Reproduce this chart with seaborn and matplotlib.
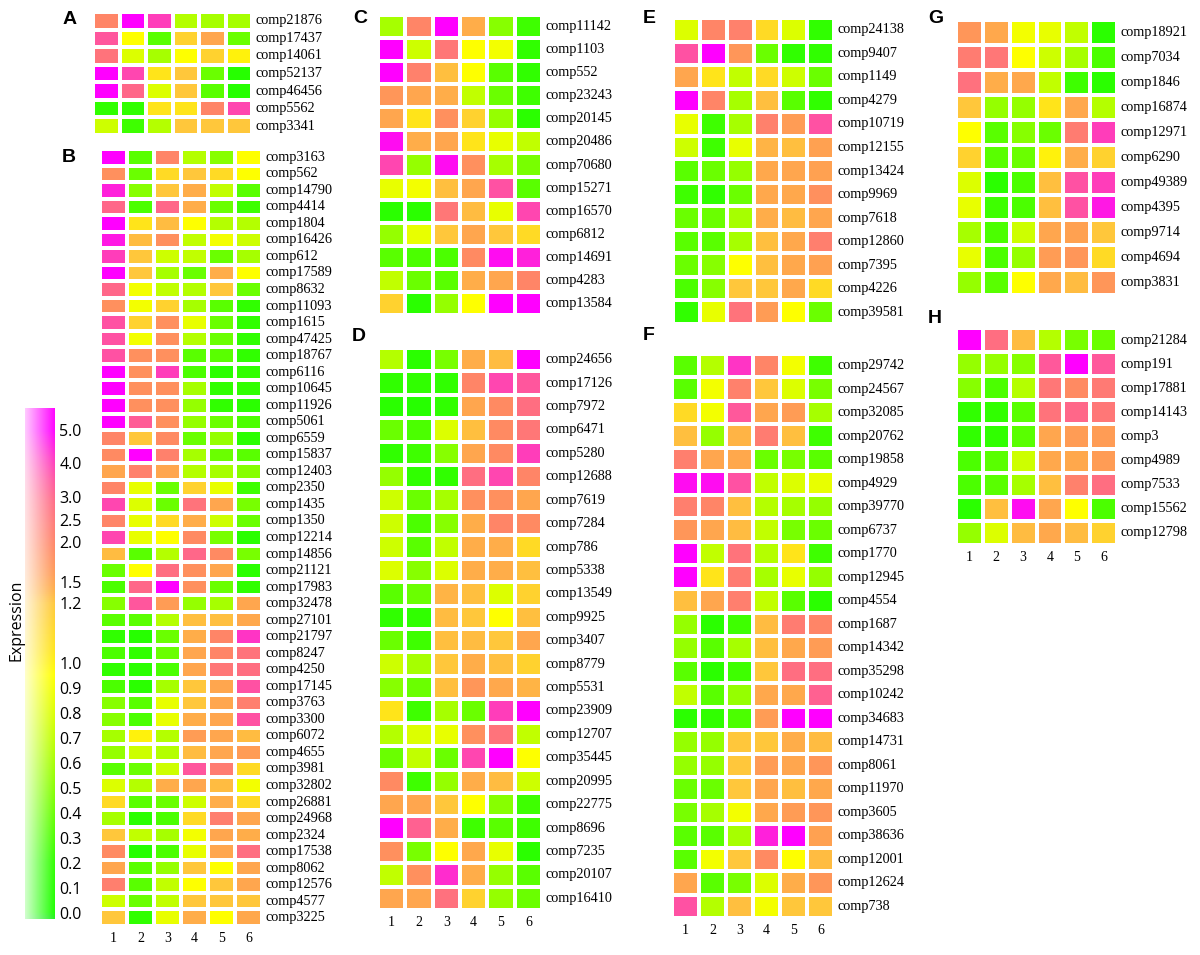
import numpy as np
import pandas as pd
import matplotlib
matplotlib.use("Agg")
import matplotlib.pyplot as plt
import seaborn as sns
from matplotlib.colors import LinearSegmentedColormap, FuncNorm

# ---------------- data ----------------
columns = ["1", "2", "3", "4", "5", "6"]

A_rows = ["comp21876", "comp17437", "comp14061", "comp52137", "comp46456", "comp5562", "comp3341"]
A_vals = [
    [2.0, 5.0, 4.0, 0.65, 0.6, 0.6],
    [3.5, 0.95, 0.35, 1.15, 1.5, 0.4],
    [2.6, 0.8, 0.6, 0.95, 1.15, 1.0],
    [5.0, 3.8, 1.05, 1.2, 0.4, 0.1],
    [5.0, 3.0, 0.8, 1.2, 0.35, 0.1],
    [0.2, 0.2, 1.05, 1.05, 2.0, 3.8],
    [0.75, 0.25, 0.65, 1.2, 1.2, 1.2],
]

B_rows = ["comp3163", "comp562", "comp14790", "comp4414", "comp1804", "comp16426", "comp612",
          "comp17589", "comp8632", "comp11093", "comp1615", "comp47425", "comp18767", "comp6116",
          "comp10645", "comp11926", "comp5061", "comp6559", "comp15837", "comp12403", "comp2350",
          "comp1435", "comp1350", "comp12214", "comp14856", "comp21121", "comp17983", "comp32478",
          "comp27101", "comp21797", "comp8247", "comp4250", "comp17145", "comp3763", "comp3300",
          "comp6072", "comp4655", "comp3981", "comp32802", "comp26881", "comp24968", "comp2324",
          "comp17538", "comp8062", "comp12576", "comp4577", "comp3225"]
B_vals = [
    [5.0, 0.35, 2.0, 0.65, 0.5, 0.95],
    [1.8, 0.4, 1.1, 1.2, 1.1, 0.95],
    [4.5, 0.5, 1.2, 1.4, 0.7, 0.35],
    [3.0, 0.3, 3.0, 1.4, 0.4, 0.25],
    [5.0, 1.05, 1.3, 0.95, 0.65, 0.65],
    [4.6, 1.3, 1.8, 0.7, 0.9, 0.75],
    [4.0, 1.2, 0.75, 0.7, 0.4, 0.6],
    [5.0, 1.2, 0.6, 0.4, 1.4, 0.95],
    [3.0, 0.9, 0.7, 0.65, 1.2, 0.4],
    [1.8, 0.9, 1.15, 0.6, 0.35, 0.2],
    [3.6, 1.15, 1.8, 0.85, 0.4, 0.2],
    [3.6, 0.9, 1.8, 0.65, 0.4, 0.2],
    [3.6, 1.8, 1.8, 0.35, 0.35, 0.2],
    [5.0, 1.8, 4.0, 0.3, 0.15, 0.2],
    [5.0, 1.8, 1.8, 0.6, 0.2, 0.2],
    [5.0, 1.8, 1.8, 0.55, 0.2, 0.15],
    [5.0, 3.3, 1.8, 0.55, 0.4, 0.3],
    [2.0, 1.2, 1.9, 0.4, 0.55, 0.15],
    [1.9, 5.0, 2.1, 0.6, 0.4, 0.35],
    [1.5, 2.1, 1.5, 0.65, 0.6, 0.5],
    [2.0, 0.85, 0.4, 1.15, 0.85, 0.25],
    [3.8, 0.8, 0.4, 2.6, 1.5, 0.45],
    [2.0, 0.85, 1.1, 1.4, 0.75, 0.4],
    [3.8, 0.85, 0.95, 1.9, 0.45, 0.15],
    [1.3, 0.35, 0.65, 3.0, 1.9, 0.45],
    [0.4, 0.95, 2.8, 1.8, 1.5, 0.15],
    [0.3, 3.0, 5.0, 1.8, 0.4, 0.2],
    [0.5, 3.5, 1.6, 0.55, 0.6, 1.5],
    [0.35, 0.35, 0.65, 1.25, 1.25, 1.45],
    [0.2, 0.1, 0.4, 1.4, 2.0, 4.2],
    [0.3, 0.2, 0.4, 1.5, 2.0, 2.6],
    [0.2, 0.15, 0.3, 1.5, 2.5, 2.8],
    [0.3, 0.15, 0.6, 1.2, 1.5, 3.6],
    [0.5, 0.35, 0.85, 1.2, 1.5, 2.2],
    [0.5, 0.3, 0.85, 1.4, 1.5, 3.6],
    [0.6, 1.0, 0.65, 1.6, 1.5, 1.3],
    [0.55, 0.75, 0.65, 1.3, 1.5, 1.6],
    [0.35, 0.4, 0.75, 3.5, 2.3, 1.1],
    [0.8, 0.65, 1.4, 1.5, 1.3, 0.9],
    [1.1, 0.35, 0.4, 0.75, 1.4, 1.1],
    [0.6, 0.15, 0.3, 1.1, 2.2, 1.5],
    [1.2, 0.7, 0.6, 0.9, 1.5, 1.4],
    [1.9, 0.1, 0.3, 0.85, 1.5, 2.8],
    [1.5, 0.35, 0.55, 1.2, 0.95, 1.5],
    [2.2, 0.35, 0.7, 0.95, 1.2, 1.5],
    [0.75, 0.4, 0.7, 1.2, 1.2, 1.2],
    [1.2, 0.2, 0.85, 1.4, 0.95, 1.45],
]

C_rows = ["comp11142", "comp1103", "comp552", "comp23243", "comp20145", "comp20486", "comp70680",
          "comp15271", "comp16570", "comp6812", "comp14691", "comp4283", "comp13584"]
C_vals = [
    [0.6, 2.0, 5.0, 1.4, 0.5, 0.25],
    [5.0, 0.75, 2.5, 0.95, 0.9, 0.2],
    [5.0, 2.1, 1.25, 0.95, 0.35, 0.2],
    [1.7, 1.5, 1.4, 0.7, 0.4, 0.25],
    [1.5, 1.05, 1.8, 1.15, 0.55, 0.15],
    [4.8, 1.4, 1.5, 1.05, 0.85, 0.7],
    [3.8, 0.55, 4.8, 1.8, 0.6, 0.45],
    [0.85, 0.9, 1.25, 1.5, 3.6, 0.35],
    [0.15, 0.15, 2.5, 1.3, 0.85, 3.8],
    [0.55, 0.85, 1.2, 1.5, 1.2, 1.1],
    [0.35, 0.3, 0.3, 1.9, 4.8, 4.5],
    [0.7, 0.4, 0.35, 1.4, 1.5, 2.0],
    [1.15, 0.15, 0.55, 0.95, 5.0, 5.0],
]

D_rows = ["comp24656", "comp17126", "comp7972", "comp6471", "comp5280", "comp12688", "comp7619",
          "comp7284", "comp786", "comp5338", "comp13549", "comp9925", "comp3407", "comp8779",
          "comp5531", "comp23909", "comp12707", "comp35445", "comp20995", "comp22775", "comp8696",
          "comp7235", "comp20107", "comp16410"]
D_vals = [
    [0.65, 0.15, 0.45, 1.4, 1.3, 5.0],
    [0.2, 0.2, 0.2, 2.0, 3.8, 3.5],
    [0.15, 0.1, 0.2, 1.5, 1.9, 2.8],
    [0.4, 0.3, 0.8, 1.25, 1.9, 2.5],
    [0.2, 0.25, 0.5, 1.5, 1.9, 4.0],
    [0.55, 0.2, 0.2, 2.8, 3.8, 2.0],
    [0.75, 0.4, 0.6, 1.8, 1.8, 1.5],
    [0.75, 0.3, 0.5, 1.4, 2.0, 1.9],
    [0.75, 0.35, 0.7, 1.4, 1.4, 1.1],
    [0.8, 0.5, 0.8, 1.4, 1.4, 1.25],
    [0.35, 0.4, 1.35, 1.25, 0.8, 1.15],
    [0.2, 0.2, 1.3, 1.2, 0.95, 1.25],
    [0.4, 0.25, 1.25, 1.3, 1.2, 1.5],
    [0.75, 0.6, 1.2, 1.4, 1.25, 1.15],
    [0.5, 0.4, 1.25, 1.7, 1.45, 1.35],
    [1.05, 0.25, 0.6, 0.4, 4.0, 5.0],
    [0.65, 0.8, 0.85, 1.8, 2.6, 0.7],
    [0.4, 0.7, 0.4, 3.8, 5.0, 0.95],
    [1.9, 0.25, 0.55, 1.4, 1.3, 0.75],
    [1.5, 1.5, 1.2, 0.95, 0.5, 0.25],
    [5.0, 3.2, 1.4, 0.25, 0.35, 0.25],
    [1.8, 0.45, 0.95, 1.45, 0.85, 0.15],
    [0.7, 1.8, 4.3, 1.4, 0.55, 0.35],
    [1.5, 1.5, 2.7, 1.15, 0.55, 0.4],
]

E_rows = ["comp24138", "comp9407", "comp1149", "comp4279", "comp10719", "comp12155", "comp13424",
          "comp9969", "comp7618", "comp12860", "comp7395", "comp4226", "comp39581"]
E_vals = [
    [0.8, 2.0, 2.1, 1.1, 0.8, 0.2],
    [3.6, 5.0, 1.7, 0.4, 0.2, 0.2],
    [1.5, 1.05, 0.7, 1.1, 0.75, 0.4],
    [5.0, 2.0, 0.6, 1.25, 0.35, 0.2],
    [0.85, 0.25, 0.6, 2.1, 1.6, 3.6],
    [0.75, 0.25, 0.85, 1.35, 1.25, 1.55],
    [0.35, 0.4, 0.55, 1.45, 1.5, 1.55],
    [0.25, 0.2, 0.4, 1.45, 1.45, 1.8],
    [0.4, 0.4, 0.6, 1.4, 1.3, 1.5],
    [0.35, 0.35, 0.6, 1.25, 1.45, 2.2],
    [0.4, 0.5, 0.95, 1.25, 1.45, 1.55],
    [0.3, 0.5, 1.2, 1.2, 1.45, 1.1],
    [0.2, 0.85, 2.6, 1.6, 0.95, 0.4],
]

F_rows = ["comp29742", "comp24567", "comp32085", "comp20762", "comp19858", "comp4929", "comp39770",
          "comp6737", "comp1770", "comp12945", "comp4554", "comp1687", "comp14342", "comp35298",
          "comp10242", "comp34683", "comp14731", "comp8061", "comp11970", "comp3605", "comp38636",
          "comp12001", "comp12624", "comp738"]
F_vals = [
    [0.35, 0.65, 4.2, 2.0, 0.9, 0.25],
    [0.35, 0.9, 2.1, 1.2, 0.8, 0.45],
    [1.1, 0.9, 3.4, 1.5, 1.6, 0.6],
    [1.25, 0.55, 1.35, 2.3, 1.25, 0.25],
    [2.2, 1.5, 1.45, 0.4, 0.45, 0.35],
    [4.8, 4.8, 3.6, 0.7, 0.8, 0.85],
    [2.2, 2.0, 1.25, 0.65, 0.6, 0.55],
    [1.7, 1.5, 1.3, 0.7, 0.45, 0.4],
    [5.0, 0.7, 2.6, 0.65, 1.05, 0.25],
    [5.0, 1.05, 2.3, 0.6, 0.85, 0.55],
    [1.25, 1.5, 2.2, 0.7, 0.35, 0.15],
    [0.55, 0.15, 0.25, 1.3, 2.3, 2.0],
    [0.55, 0.35, 0.6, 1.25, 1.45, 1.6],
    [0.35, 0.15, 0.25, 1.2, 2.8, 2.8],
    [0.7, 0.35, 0.55, 1.45, 1.45, 3.2],
    [0.15, 0.2, 0.3, 1.6, 5.0, 5.0],
    [0.55, 0.55, 1.2, 1.2, 1.4, 1.3],
    [0.55, 0.55, 1.2, 1.6, 1.5, 1.7],
    [0.4, 0.4, 1.2, 1.5, 1.25, 1.45],
    [0.45, 0.6, 0.9, 1.45, 1.6, 1.7],
    [0.35, 0.35, 0.6, 4.5, 5.0, 1.55],
    [0.35, 0.9, 1.2, 1.9, 0.95, 1.3],
    [1.5, 0.35, 0.45, 0.8, 1.4, 1.7],
    [3.6, 0.65, 1.25, 0.9, 1.2, 1.2],
]

G_rows = ["comp18921", "comp7034", "comp1846", "comp16874", "comp12971", "comp6290", "comp49389",
          "comp4395", "comp9714", "comp4694", "comp3831"]
G_vals = [
    [1.7, 1.45, 0.9, 0.85, 0.7, 0.15],
    [2.3, 2.5, 0.95, 0.75, 0.6, 0.3],
    [2.7, 1.4, 1.45, 0.7, 0.25, 0.15],
    [1.2, 0.55, 0.55, 1.05, 1.45, 0.65],
    [0.95, 0.35, 0.5, 0.4, 2.3, 4.0],
    [1.15, 0.35, 0.4, 1.0, 1.4, 1.15],
    [0.8, 0.15, 0.3, 1.25, 3.6, 4.0],
    [0.85, 0.25, 0.3, 1.25, 3.6, 4.6],
    [0.6, 0.3, 0.75, 1.5, 1.55, 1.2],
    [0.85, 0.3, 0.55, 1.6, 1.7, 1.1],
    [0.55, 0.35, 0.95, 1.45, 1.3, 1.7],
]

H_rows = ["comp21284", "comp191", "comp17881", "comp14143", "comp3", "comp4989", "comp7533",
          "comp15562", "comp12798"]
H_vals = [
    [5.0, 2.8, 1.3, 0.65, 0.45, 0.4],
    [0.55, 0.55, 0.5, 3.4, 5.0, 3.4],
    [0.5, 0.3, 0.65, 2.5, 1.9, 2.4],
    [0.2, 0.2, 0.35, 2.6, 3.0, 2.5],
    [0.2, 0.2, 0.35, 1.5, 1.6, 1.6],
    [0.3, 0.35, 0.75, 1.45, 1.45, 1.6],
    [0.3, 0.35, 0.6, 1.25, 2.1, 2.8],
    [0.15, 1.25, 4.8, 1.5, 0.95, 0.3],
    [0.55, 0.8, 1.3, 1.45, 1.3, 1.15],
]

cbar_ticks = [0.0, 0.1, 0.2, 0.3, 0.4, 0.5, 0.6, 0.7, 0.8, 0.9, 1.0, 1.2, 1.5, 2.0, 2.5, 3.0, 4.0, 5.0]

# ---------------- colour scale (non-linear, as on the original bar) ----------------
VMIN, VMAX = -0.026, 5.67
scale_vals = np.array([VMIN, 0.0, 0.1, 0.2, 0.3, 0.4, 0.5, 0.6, 0.7, 0.8, 0.9, 1.0,
                       1.2, 1.5, 2.0, 2.5, 3.0, 4.0, 5.0, VMAX])
scale_pix = np.array([919, 913, 888, 863, 838, 813, 788, 763, 738, 713, 688, 663,
                      603, 582, 542, 520, 497, 463, 430, 408], dtype=float)
scale_pos = (919.0 - scale_pix) / (919.0 - 408.0)


def fwd(x):
    return np.interp(np.asarray(x, dtype=float), scale_vals, scale_pos)


def inv(y):
    return np.interp(np.asarray(y, dtype=float), scale_pos, scale_vals)


norm = FuncNorm((fwd, inv), vmin=VMIN, vmax=VMAX)

color_anchors = [
    (VMIN, "#22F21E"), (0.0, "#1CFF00"), (0.2, "#30FF00"), (0.35, "#5AFF00"),
    (0.5, "#88FF00"), (0.65, "#B4FF00"), (0.8, "#DCFF00"), (0.95, "#FFFF00"),
    (1.05, "#FFE41A"), (1.2, "#FFC83A"), (1.4, "#FFAE48"), (1.6, "#FF9C55"),
    (1.9, "#FF8A62"), (2.4, "#FF7A74"), (3.0, "#FF6888"), (3.6, "#FF52A2"),
    (4.2, "#FF35C4"), (5.0, "#FF00FF"), (VMAX, "#FF00FF"),
]
cmap = LinearSegmentedColormap.from_list(
    "expr", [(float(fwd(v)), c) for v, c in color_anchors])

# ---------------- layout ----------------
W, H = 1200, 955
fig = plt.figure(figsize=(W / 100, H / 100), dpi=100)
fig.patch.set_facecolor("white")


def box(x0, y0, x1, y1):
    return [x0 / W, 1 - y1 / H, (x1 - x0) / W, (y1 - y0) / H]


serif = "Liberation Serif"
sans = "Liberation Sans"

panels = [
    ("A", A_rows, A_vals, box(93, 12, 252, 135), False, (63, 11)),
    ("B", B_rows, B_vals, box(100, 149, 262, 926), True, (62, 149)),
    ("C", C_rows, C_vals, box(378, 15, 542, 315), False, (353, 10)),
    ("D", D_rows, D_vals, box(378, 348, 542, 910), True, (352, 328)),
    ("E", E_rows, E_vals, box(673, 18, 834, 324), False, (643, 10)),
    ("F", F_rows, F_vals, box(672, 354, 834, 918), True, (643, 327)),
    ("G", G_rows, G_vals, box(956, 20, 1117, 295), False, (928, 10)),
    ("H", H_rows, H_vals, box(956, 328, 1117, 545), True, (928, 310)),
]

cax = fig.add_axes(box(25, 408, 55, 919))

for letter, rows, vals, pos, show_x, lpos in panels:
    ax = fig.add_axes(pos)
    df = pd.DataFrame(vals, index=rows, columns=columns)
    use_cbar = letter == "B"
    sns.heatmap(df, ax=ax, cmap=cmap, norm=norm, linewidths=1.6, linecolor="white",
                cbar=use_cbar, cbar_ax=cax if use_cbar else None,
                cbar_kws={"ticks": cbar_ticks} if use_cbar else None,
                xticklabels=show_x, yticklabels=True)
    ax.yaxis.tick_right()
    ax.tick_params(axis="y", length=0, pad=2.5, labelsize=10.3)
    ax.tick_params(axis="x", length=0, pad=4, labelsize=10)
    plt.setp(ax.get_yticklabels(), rotation=0, fontfamily=serif, va="center")
    plt.setp(ax.get_xticklabels(), rotation=0, fontfamily=serif)
    ax.set_xlabel("")
    ax.set_ylabel("")
    fig.text(lpos[0] / W, 1 - lpos[1] / H, letter, fontsize=14, fontweight="bold",
             fontfamily=sans, ha="left", va="top")

# colour bar styling
cax.set_yticks(cbar_ticks)
cax.set_yticklabels([f"{t:.1f}" for t in cbar_ticks])
cax.tick_params(axis="y", length=0, pad=3, labelsize=11.5)
plt.setp(cax.get_yticklabels(), fontfamily="Open Sans")
for s in cax.spines.values():
    s.set_visible(False)

# white fade on the left side of the colour bar
fade_ax = fig.add_axes(box(25, 408, 55, 919), zorder=cax.get_zorder() + 1)
fade = np.ones((1, 64, 4))
fade[0, :, 3] = np.linspace(0.8, 0.0, 64)
fade_ax.imshow(fade, aspect="auto", extent=(0, 1, 0, 1), interpolation="bilinear")
fade_ax.set_axis_off()

fig.text(16 / W, 1 - 620 / H, "Expression", rotation=90, fontsize=11.5,
         fontfamily="Open Sans", ha="center", va="center")

fig.savefig("out.png", dpi=100, facecolor="white")
